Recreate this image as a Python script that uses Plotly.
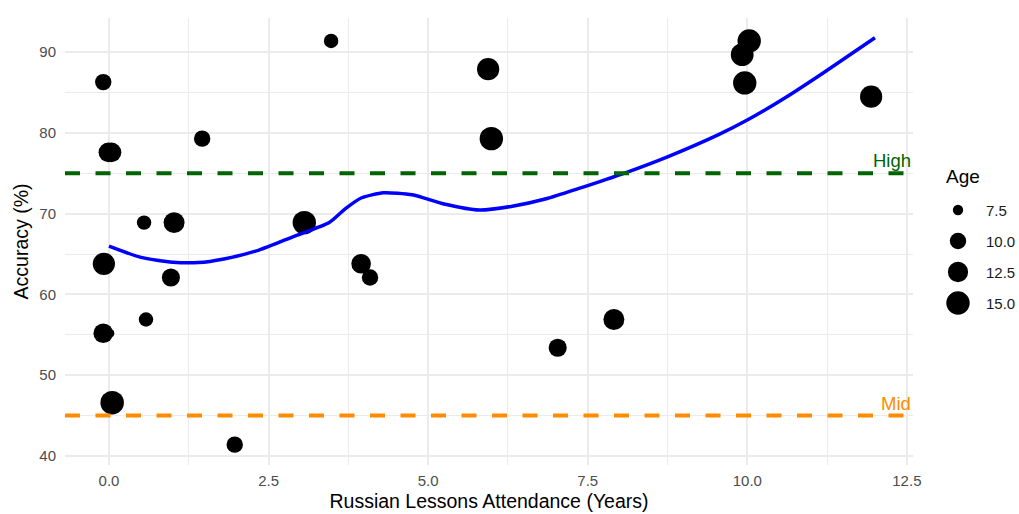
import numpy as np
import plotly.graph_objects as go

# ---- data ----
years = [-0.09, -0.01, 0.04, 1.46, 3.48, 0.55, 1.02, 3.06, -0.08, 0.97, 0.58,
         -0.09, 0.02, 0.05, 1.97, 5.94, 5.99, 3.95, 4.09, 7.03, 7.91, 10.03,
         9.92, 9.96, 11.94]
accuracy = [86.3, 77.6, 77.6, 79.3, 91.4, 68.9, 68.9, 68.9, 63.8, 62.1, 56.9,
            55.2, 55.2, 46.6, 41.4, 87.9, 79.3, 63.8, 62.1, 53.4, 56.9, 91.4,
            89.7, 86.2, 84.5]
age = [10, 12, 12, 10, 9, 9, 13, 15, 14, 11, 9,
       12, 7, 15.5, 10, 14, 15, 12, 10, 11, 13, 15,
       14.5, 15, 14]

smooth_x = [0.0, 0.5, 1.0, 1.4, 1.8, 2.35, 2.9, 3.45, 3.7, 3.95, 4.3, 4.75,
            5.25, 5.8, 6.3, 6.85, 7.35, 8.1, 8.75, 9.55, 10.0, 10.6, 11.2, 12.0]
smooth_y = [66.0, 64.6, 64.0, 63.95, 64.4, 65.5, 67.2, 68.9, 70.6, 71.95, 72.6,
            72.35, 71.2, 70.45, 70.9, 71.85, 73.1, 75.1, 77.05, 79.8, 81.6, 84.4,
            87.5, 91.8]

thresholds = [75, 45]
threshold_labels = ["High", "Mid"]
threshold_colors = ["#006400", "#FF8C00"]

legend_breaks = [7.5, 10.0, 12.5, 15.0]
legend_labels = ["7.5", "10.0", "12.5", "15.0"]

x_ticks = [0, 2.5, 5, 7.5, 10, 12.5]
y_ticks = [40, 50, 60, 70, 80, 90]

FONT = "Liberation Sans, Arial, sans-serif"
W, H = 1019, 514
PL, PR, PT, PB = 65, 913, 18, 465


def px_x(px):
    return (px - PL) / (PR - PL)


def px_y(py):
    return (PB - py) / (PB - PT)


def age_to_diam(a):
    a = np.asarray(a, dtype=float)
    return 4.5 + 19.0 * np.sqrt(np.clip((a - 6.7) / 8.4, 0, 1))


fig = go.Figure()

fig.add_trace(go.Scatter(
    x=years, y=accuracy, mode="markers",
    marker=dict(color="black", size=age_to_diam(age), opacity=1,
                line=dict(width=0)),
    showlegend=False, hoverinfo="x+y"))

fig.add_trace(go.Scatter(
    x=smooth_x, y=smooth_y, mode="lines",
    line=dict(color="#0000FF", width=3.5, shape="spline", smoothing=0.6),
    showlegend=False, hoverinfo="skip"))

shapes = []
annotations = []
for val, lab, col in zip(thresholds, threshold_labels, threshold_colors):
    shapes.append(dict(type="line", xref="paper", yref="y", x0=0, x1=1,
                       y0=val, y1=val, layer="above",
                       line=dict(color=col, width=4, dash="15px,15.5px")))
    annotations.append(dict(text=lab, xref="paper", yref="y", x=1.0, y=val,
                            xanchor="right", yanchor="bottom", yshift=0,
                            showarrow=False,
                            font=dict(family=FONT, size=18.5, color=col)))

# manual size legend
annotations.append(dict(text="Age", xref="paper", yref="paper",
                        x=px_x(944), y=px_y(176), xanchor="left",
                        yanchor="middle", showarrow=False,
                        font=dict(family=FONT, size=19, color="black")))
leg_y = [210, 241, 272, 303]
for b, lab, yy in zip(legend_breaks, legend_labels, leg_y):
    r = float(age_to_diam(b)) / 2
    shapes.append(dict(type="circle", xref="paper", yref="paper",
                       xsizemode="pixel", ysizemode="pixel",
                       xanchor=px_x(958), yanchor=px_y(yy),
                       x0=-r, x1=r, y0=-r, y1=r,
                       fillcolor="black", line=dict(width=0)))
    annotations.append(dict(text=lab, xref="paper", yref="paper",
                            x=px_x(984), y=px_y(yy), xanchor="left",
                            yanchor="middle", showarrow=False,
                            font=dict(family=FONT, size=15, color="#1a1a1a")))

grid_major = "#EBEBEB"

fig.update_layout(
    width=W, height=H,
    margin=dict(l=PL, r=W - PR, t=PT, b=H - PB, pad=0, autoexpand=False),
    paper_bgcolor="white", plot_bgcolor="white",
    font=dict(family=FONT),
    shapes=shapes, annotations=annotations,
    showlegend=False,
    xaxis=dict(
        range=[-0.689, 12.596], tickvals=x_ticks, tickformat=".1f",
        automargin=False,
        showgrid=True, gridcolor=grid_major, gridwidth=2,
        zeroline=False, showline=False, ticks="",
        ticklabelstandoff=5,
        tickfont=dict(family=FONT, size=15, color="#4D4D4D"),
        minor=dict(dtick=1.25, tick0=0, showgrid=True, gridcolor=grid_major, gridwidth=1),
        title=dict(text="Russian Lessons Attendance (Years)", standoff=6,
                   font=dict(family=FONT, size=19.5, color="black")),
    ),
    yaxis=dict(
        range=[38.88, 94.24], tickvals=y_ticks,
        automargin=False,
        showgrid=True, gridcolor=grid_major, gridwidth=2,
        zeroline=False, showline=False, ticks="",
        ticklabelstandoff=8,
        tickfont=dict(family=FONT, size=15, color="#4D4D4D"),
        minor=dict(dtick=5, tick0=0, showgrid=True, gridcolor=grid_major, gridwidth=1),
        title=dict(text="Accuracy (%)", standoff=5,
                   font=dict(family=FONT, size=19.5, color="black")),
    ),
)

fig.write_html(
    "out.html",
    config={"displayModeBar": False},
    post_script="document.body.style.margin='0';document.body.style.overflow='hidden';",
)
